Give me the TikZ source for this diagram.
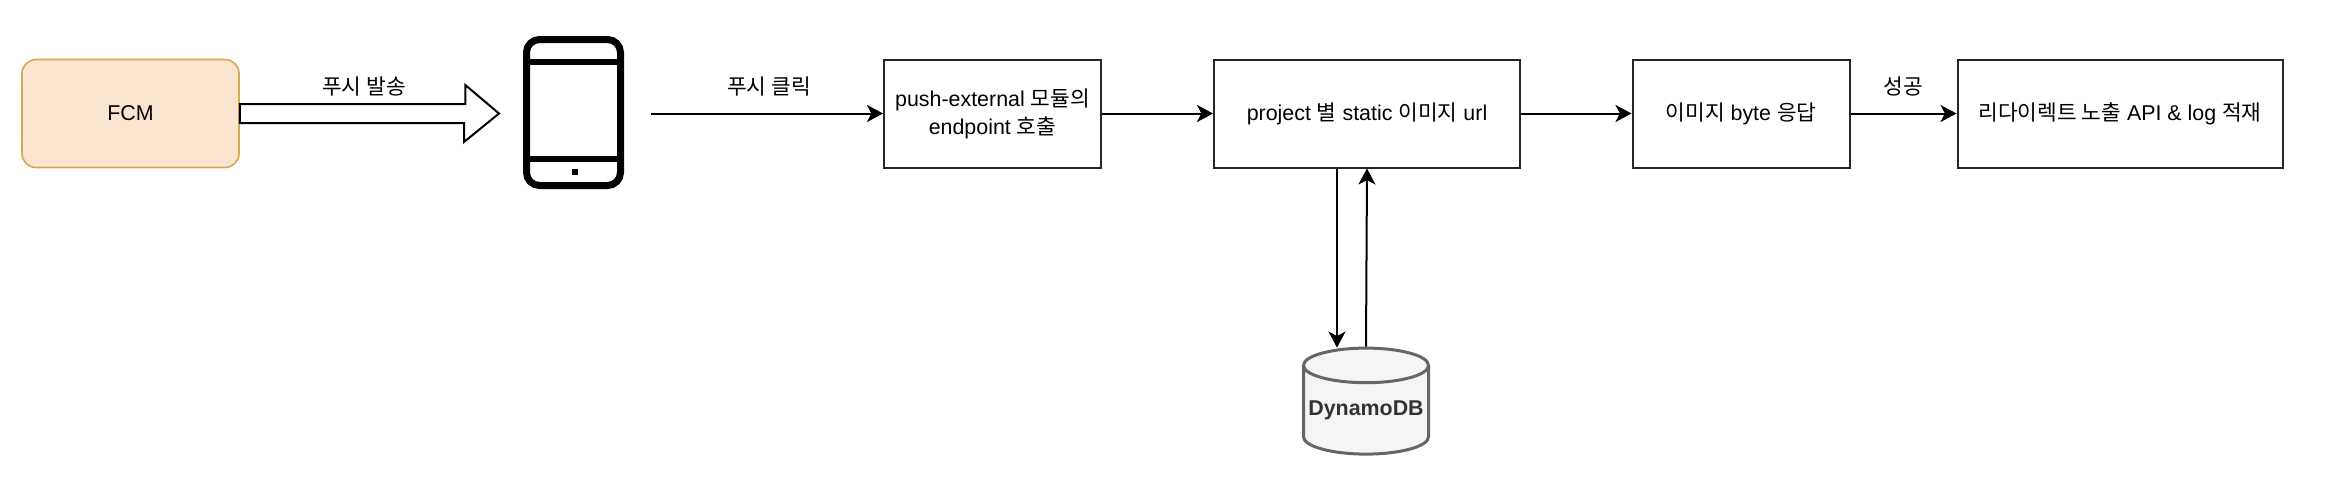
\documentclass[tikz,border=0pt]{standalone}
\usepackage{fontspec}
\setmainfont{Liberation Sans}
\newfontfamily\kr{Noto Sans CJK KR}
\usetikzlibrary{arrows.meta,calc,shapes.geometric}

\begin{document}
\begin{tikzpicture}[x=0.5pt,y=-0.5pt,>={Stealth[length=8pt,width=8.5pt,inset=2.2pt]},line width=1pt]
        \tikzstyle{every node} = [rectangle, font=\fontsize{10.7}{14}\selectfont, align=center]
        \tikzstyle{stepbox} = [draw=black!85, minimum height=54pt, inner sep=0pt]
        \useasboundingbox (0,0) rectangle (2334,482);
        \node[draw={rgb,255:red,214;green,168;blue,80}, line width=0.8pt, fill={rgb,255:red,250;green,229;blue,208}, rounded corners=7pt, minimum width=108.5pt, minimum height=54pt] (fcm) at (130.5,113.5) {FCM};
        \node[draw, line width=3.5pt, rounded corners=6.5pt, minimum width=47pt, minimum height=73pt, inner sep=0pt] (phone) at (573.5,112.5) {};
        \node[stepbox, minimum width=108.5pt] (pushext) at (992.5,113.5) {push-external {\kr 모듈의}\\endpoint {\kr 호출}};
        \node[stepbox, minimum width=153pt] (project) at (1367,113.5) {project {\kr 별} static {\kr 이미지} url};
        \node[stepbox, minimum width=108.5pt] (image) at (1741,113.5) {{\kr 이미지} byte {\kr 응답}};
        \node[stepbox, minimum width=162.5pt] (redirect) at (2120,113.5) {{\kr 리다이렉트 노출} API \& log {\kr 적재}};
        \node[cylinder, shape border rotate=90, aspect=0.3, draw=black!60, line width=1.5pt, fill=black!4, text=black!80, font=\fontsize{10.7}{14}\selectfont\bfseries, minimum width=62.5pt, minimum height=53pt, inner sep=0pt] (dynamo) at (1366,410.5) {\raisebox{1.5pt}{DynamoDB}};
        \node (sendlabel) at (364,86) {\kr 푸시 발송};
        \node (clicklabel) at (769,86) {\kr 푸시 클릭};
        \node (oklabel) at (1903,86) {\kr 성공};
        % phone details
        \draw[line width=3pt] (phone.west |- 0,62) -- (phone.east |- 0,62);
        \draw[line width=3pt] (phone.west |- 0,159) -- (phone.east |- 0,159);
        \node[fill=black, minimum size=3pt, inner sep=0pt] (phonebtn) at (574.5,172) {};
        % block arrow
        \draw[line width=1pt, fill=white] ($(fcm.east)+(0,-9.5)$) -- ++(225.5,0) -- ++(0,-19) -- (499,113.5) -- (464,142) -- ++(0,-19) -- ($(fcm.east)+(0,9.5)$) -- cycle;
        \coordinate (clickstart) at (651,113.5);
        \coordinate (dbport) at ($(dynamo.top)+(-29,1)$);
        \draw[->] (clickstart) -- (pushext.west);
        \foreach \from/\to in {pushext/project, project/image, image/redirect}
            \draw[->] (\from) -- (\to);
        \draw[->] (project.south -| dbport) -- (dbport);
        \draw[->] (dynamo.top) -- (project.south);
    \end{tikzpicture}
\end{document}
